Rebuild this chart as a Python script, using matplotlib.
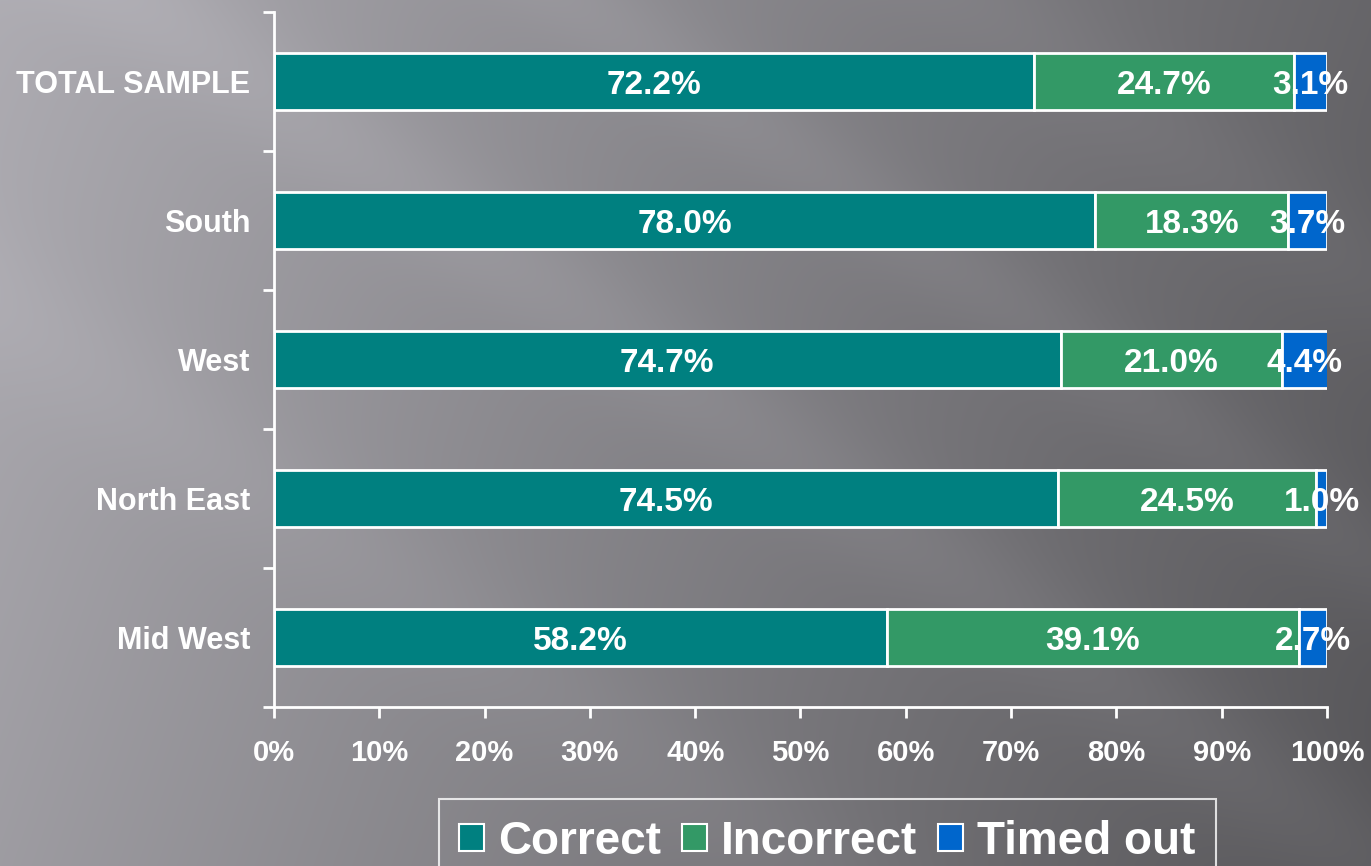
import numpy as np
import matplotlib.pyplot as plt
from matplotlib.patches import Patch

plt.rcParams['font.family'] = ['Liberation Sans', 'DejaVu Sans']
plt.rcParams['font.weight'] = 'bold'

# data (top to bottom as in the chart)
regions = ['TOTAL SAMPLE', 'South', 'West', 'North East', 'Mid West']
correct = [72.2, 78.0, 74.7, 74.5, 58.2]
incorrect = [24.7, 18.3, 21.0, 24.5, 39.1]
timed_out = [3.1, 3.7, 4.4, 1.0, 2.7]
series_names = ['Correct', 'Incorrect', 'Timed out']
colors = ['#008080', '#339966', '#0066CC']

W, H = 1371, 866
fig = plt.figure(figsize=(W / 100, H / 100), dpi=100)

# gray slide background with soft diagonal streaks
yy, xx = np.mgrid[0:H, 0:W]
base = 176 - 72 * (xx / W) - 16 * (yy / H)
a = np.deg2rad(35)
p = -xx * np.sin(a) + yy * np.cos(a)
streak = (9 * np.exp(-((p + 80) / 60) ** 2) + 8 * np.exp(-((p + 330) / 50) ** 2)
          + 6 * np.exp(-((p - 250) / 70) ** 2) + 6 * np.exp(-((p + 560) / 60) ** 2))
g = np.clip(base + streak, 0, 255) / 255
bg = np.dstack([g * 0.985, g * 0.975, g * 1.01])
bg = np.clip(bg, 0, 1)
bax = fig.add_axes([0, 0, 1, 1], zorder=-1)
bax.imshow(bg, aspect='auto', extent=[0, 1, 0, 1])
bax.axis('off')

ax = fig.add_axes([274 / W, 1 - 707 / H, (1327 - 274) / W, (707 - 12) / H])
ax.set_facecolor('none')

n = len(regions)
ypos = np.arange(n)[::-1]
left = np.zeros(n)
handles = []
for vals, name, c in zip([correct, incorrect, timed_out], series_names, colors):
    vals = np.array(vals)
    ax.barh(ypos, vals, left=left, height=0.41, color=c, edgecolor='white', linewidth=2)
    for y, l, v in zip(ypos, left, vals):
        ax.text(l + v / 2, y - 0.03, f'{v:.1f}%', ha='center', va='center',
                color='white', fontsize=24, fontweight='bold')
    left = left + vals
    handles.append(Patch(facecolor=c, edgecolor='white', linewidth=1.5, label=name))

ax.set_xlim(0, 100)
ax.set_ylim(-0.5, n - 0.5)
ax.set_xticks(np.arange(0, 101, 10))
ax.set_xticklabels([f'{t}%' for t in range(0, 101, 10)])
ax.set_yticks(ypos)
ax.set_yticklabels(regions)
ax.set_yticks(np.arange(-0.5, n, 1), minor=True)
ax.tick_params(axis='y', which='major', length=0, pad=17, labelsize=22, labelcolor='white')
ax.tick_params(axis='y', which='minor', length=8, width=2, color='white')
ax.tick_params(axis='x', length=8, width=2, color='white', pad=15, labelsize=21, labelcolor='white')
for lab in ax.get_xticklabels() + ax.get_yticklabels():
    lab.set_fontweight('bold')
for s in ['top', 'right']:
    ax.spines[s].set_visible(False)
for s in ['left', 'bottom']:
    ax.spines[s].set_color('white')
    ax.spines[s].set_linewidth(2)

leg = fig.legend(handles=handles, loc='upper center', bbox_to_anchor=(827 / W, 1 - 799 / H),
                 ncol=3, fontsize=33, frameon=True, fancybox=False, borderaxespad=0,
                 handlelength=0.55, handleheight=0.55, handletextpad=0.3,
                 columnspacing=0.45, borderpad=0.45, labelcolor='white')
leg.get_frame().set_facecolor('none')
leg.get_frame().set_edgecolor('white')
leg.get_frame().set_linewidth(1.5)
for t in leg.get_texts():
    t.set_fontweight('bold')

fig.savefig('out.png', dpi=100)
